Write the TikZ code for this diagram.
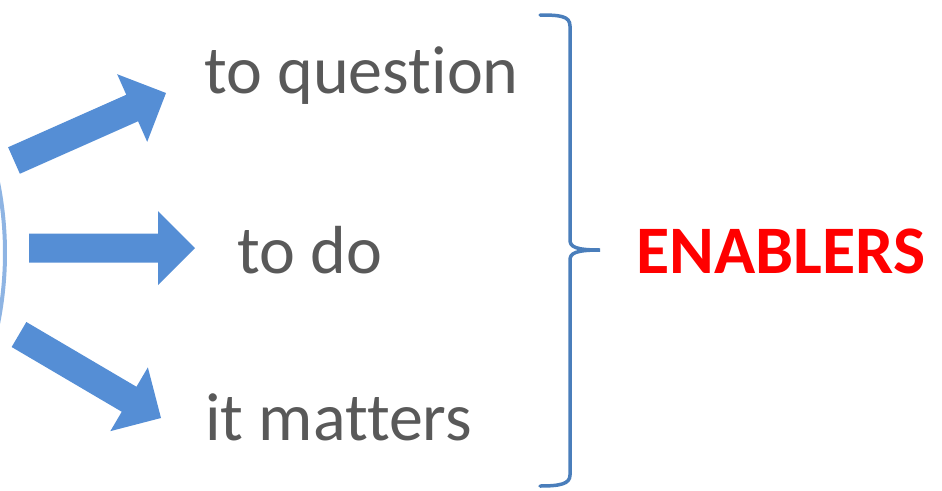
\documentclass[tikz,border=0pt]{standalone}
\usepackage{fontspec}
\setmainfont{Carlito}[Ligatures={NoCommon,NoContextual}]
\usetikzlibrary{calc}
\definecolor{txtgrey}{HTML}{595959}
\definecolor{arrowblue}{HTML}{558ED5}
\definecolor{braceblue}{HTML}{4A7EBB}
\definecolor{arcblue}{HTML}{8EB4E3}
\newcommand{\blkarrow}[3]{%
  \coordinate (#3h) at ($(#2)!37pt!(#1)$);
  \fill[arrowfill] ($(#1)!14.5pt!90:(#2)$) -- ($(#3h)!14.5pt!90:(#2)$) -- ($(#3h)!37pt!90:(#2)$) -- (#2)
    -- ($(#3h)!37pt!-90:(#2)$) -- ($(#3h)!14.5pt!-90:(#2)$) -- ($(#1)!14.5pt!-90:(#2)$) -- cycle;}
\begin{document}
\begin{tikzpicture}[x=1pt,y=-1pt,
  label/.style={inner sep=0pt, anchor=base west, text=txtgrey, font=\fontsize{68}{80}\selectfont},
  arrowfill/.style={fill=arrowblue},
  bracestyle/.style={draw=braceblue, line width=3.5pt, line cap=round},
  arcstyle/.style={draw=arcblue, line width=4pt}]
\useasboundingbox (0,0) rectangle (942,490);
% arc
\draw[arcstyle] (-357,253) ++(-12:362) arc[start angle=-12, end angle=12, radius=362];
% text
\node[label] (q) at (204,93) {to question};
\node[label] (d) at (237,273) {to do};
\node[label] (m) at (205,440) {it matters};
\node[inner sep=0pt, anchor=base west, text=red, font=\bfseries\fontsize{68}{80}\selectfont] (en) at (636,273) {ENABLERS};
% arrows
\coordinate (t1) at (14,160.5);
\coordinate (p1) at (166,93);
\coordinate (t2) at (29,248);
\coordinate (p2) at (195,248);
\coordinate (t3) at (19,334.5);
\coordinate (p3) at (161,418);
\blkarrow{t1}{p1}{a1}
\blkarrow{t2}{p2}{a2}
\blkarrow{t3}{p3}{a3}
% brace
\draw[bracestyle] (540,15) .. controls (560,15) and (570,16) .. (570,26) -- (570,240)
  .. controls (570,247) and (576,250) .. (600,250)
  .. controls (576,250) and (570,253) .. (570,260) -- (570,475)
  .. controls (570,484) and (560,486) .. (540,486);
\end{tikzpicture}
\end{document}
